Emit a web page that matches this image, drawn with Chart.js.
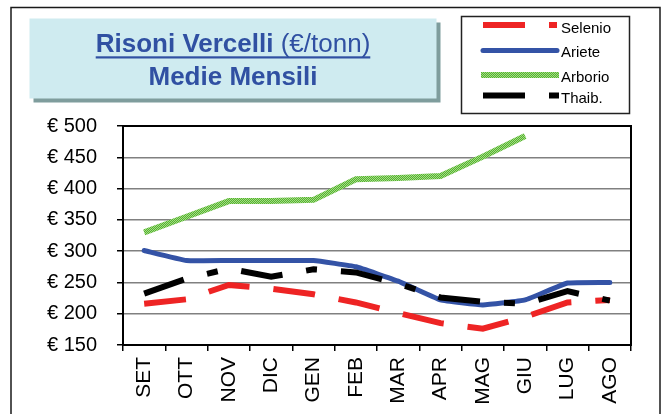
<!DOCTYPE html>
<html>
<head>
<meta charset="utf-8">
<script src="https://cdn.jsdelivr.net/npm/chart.js@4.4.0/dist/chart.umd.min.js"></script>
<style>
  html, body { margin: 0; padding: 0; background: #ffffff; }
  #wrap { width: 663px; height: 414px; position: relative; }
</style>
</head>
<body>
<div id="wrap"><canvas id="c" width="663" height="414"></canvas></div>
<script>
// ---- data ----
const months = ['SET','OTT','NOV','DIC','GEN','FEB','MAR','APR','MAG','GIU','LUG','AGO'];
const selenio = [216, 223, 246, 240, 231, 218, 201, 185, 176, 195, 218, 222];
const ariete  = [301, 285, 285, 285, 285, 275, 252, 222, 214, 222, 249, 250];
const arborio = [330, 355, 380, 380, 382, 415, 417, 420, 451, 484, null, null];
const thaib   = [232, 256, 272, 259, 271, 266, 248, 226, 219, 216, 236, 221];
const seriesNames = ['Selenio', 'Ariete', 'Arborio', 'Thaib.'];
const yMin = 150, yMax = 500, yStep = 50;
const titleLine1Bold = 'Risoni Vercelli ';
const titleLine1Normal = '(€/tonn)';
const titleLine2 = 'Medie Mensili';

const FONT = '"Liberation Sans", Arial, sans-serif';
const titleColor = '#3050a2';

// checkered green pattern
function makeGreenPattern(ctx) {
  const p = document.createElement('canvas');
  p.width = 2; p.height = 2;
  const g = p.getContext('2d');
  g.fillStyle = '#55b42f'; g.fillRect(0,0,2,2);
  g.fillStyle = '#a3da86'; g.fillRect(0,0,1,1); g.fillRect(1,1,1,1);
  return ctx.createPattern(p, 'repeat');
}

const canvas = document.getElementById('c');
const ctx0 = canvas.getContext('2d');
const greenPattern = makeGreenPattern(ctx0);

const redDash = [42, 24];
const blackDash = [42, 24, 11, 24];

const decorPlugin = {
  id: 'decor',
  beforeDatasetsDraw(chart) {
    const { ctx, chartArea: a } = chart;
    ctx.save();
    ctx.strokeStyle = '#000';
    ctx.lineWidth = 2;
    ctx.strokeRect(a.left, a.top, a.right - a.left, a.bottom - a.top);
    ctx.restore();
  },
  afterDraw(chart) {
    const ctx = chart.ctx;
    ctx.save();
    // outer frame
    ctx.strokeStyle = '#1a1a1a';
    ctx.lineWidth = 1.5;
    ctx.strokeRect(11, 7.5, 649, 420);

    // title box with shadow
    ctx.fillStyle = '#7f9d9d';
    ctx.fillRect(33.5, 22.5, 407, 80);
    ctx.fillStyle = '#cfebf0';
    ctx.fillRect(29.5, 18.5, 407, 80);

    // title text
    ctx.fillStyle = titleColor;
    ctx.textBaseline = 'alphabetic';
    ctx.textAlign = 'left';
    ctx.font = 'bold 26px ' + FONT;
    const w1 = ctx.measureText(titleLine1Bold).width;
    ctx.font = '26px ' + FONT;
    const w2 = ctx.measureText(titleLine1Normal).width;
    const cx = 233;
    const sx = cx - (w1 + w2) / 2;
    ctx.font = 'bold 26px ' + FONT;
    ctx.fillText(titleLine1Bold, sx, 52);
    ctx.font = '26px ' + FONT;
    ctx.fillText(titleLine1Normal, sx + w1, 52);
    ctx.fillRect(sx, 56.3, w1 + w2, 2.2);
    ctx.font = 'bold 26px ' + FONT;
    ctx.textAlign = 'center';
    ctx.fillText(titleLine2, cx, 84.5);

    // legend box
    ctx.fillStyle = '#ffffff';
    ctx.fillRect(461.5, 16.5, 168, 97);
    ctx.strokeStyle = '#222';
    ctx.lineWidth = 1.5;
    ctx.strokeRect(461.5, 16.5, 168, 97);

    const rows = [
      { y: 25, ty: 33, color: '#ee2424', dash: redDash, w: 6, cap: 'butt', x0: 483, x1: 557 },
      { y: 50.5, ty: 57, color: '#3453a6', dash: [], w: 5, cap: 'round', x0: 483, x1: 557 },
      { y: 75, ty: 81.5, color: greenPattern, dash: [], w: 6, cap: 'butt', x0: 481, x1: 559 },
      { y: 95.5, ty: 102.5, color: '#000000', dash: blackDash, w: 6, cap: 'butt', x0: 483, x1: 559 }
    ];
    rows.forEach((r, i) => {
      ctx.beginPath();
      ctx.setLineDash(r.dash);
      ctx.lineDashOffset = 0;
      ctx.lineCap = r.cap;
      ctx.lineWidth = r.w;
      ctx.strokeStyle = r.color;
      ctx.moveTo(r.x0, r.y);
      ctx.lineTo(r.x1, r.y);
      ctx.stroke();
      ctx.setLineDash([]);
      ctx.fillStyle = '#000';
      ctx.font = '15px ' + FONT;
      ctx.textAlign = 'left';
      ctx.fillText(seriesNames[i], 561, r.ty);
    });
    ctx.restore();
  }
};

new Chart(canvas, {
  type: 'line',
  data: {
    labels: months,
    datasets: [
      { label: seriesNames[0], data: selenio, borderColor: '#ee2424', borderWidth: 6,
        borderDash: redDash, borderCapStyle: 'butt', pointRadius: 0, tension: 0, order: 2 },
      { label: seriesNames[1], data: ariete, borderColor: '#3453a6', borderWidth: 5,
        borderCapStyle: 'round', borderJoinStyle: 'round', pointRadius: 0, tension: 0.1, order: 3 },
      { label: seriesNames[2], data: arborio, borderColor: greenPattern, borderWidth: 6,
        pointRadius: 0, tension: 0, spanGaps: false, order: 4 },
      { label: seriesNames[3], data: thaib, borderColor: '#000000', borderWidth: 6,
        borderDash: blackDash, borderCapStyle: 'butt', pointRadius: 0, tension: 0, order: 1 }
    ]
  },
  options: {
    responsive: false,
    animation: false,
    events: [],
    layout: { padding: { left: 0, right: 32, top: 126, bottom: 0 } },
    plugins: { legend: { display: false }, title: { display: false }, tooltip: { enabled: false } },
    scales: {
      x: {
        type: 'category',
        offset: true,
        afterFit(s) { s.height = 69; },
        grid: { display: true, offset: true, drawOnChartArea: false, drawTicks: true,
                tickLength: 6, color: '#000', tickColor: '#000', lineWidth: 1.5 },
        border: { display: true, color: '#000', width: 2 },
        ticks: { autoSkip: false, minRotation: 90, maxRotation: 90, padding: 6,
                 color: '#000', font: { family: FONT, size: 21 } }
      },
      y: {
        min: yMin, max: yMax,
        afterFit(s) { s.width = 123; },
        grid: { color: '#808080', lineWidth: 1.5, tickColor: '#000', tickLength: 6, drawTicks: true },
        border: { display: true, color: '#000', width: 2 },
        ticks: { stepSize: yStep, padding: 20, color: '#000',
                 font: { family: FONT, size: 20 },
                 callback: (v) => '€ ' + v }
      }
    }
  },
  plugins: [decorPlugin]
});
</script>
</body>
</html>
